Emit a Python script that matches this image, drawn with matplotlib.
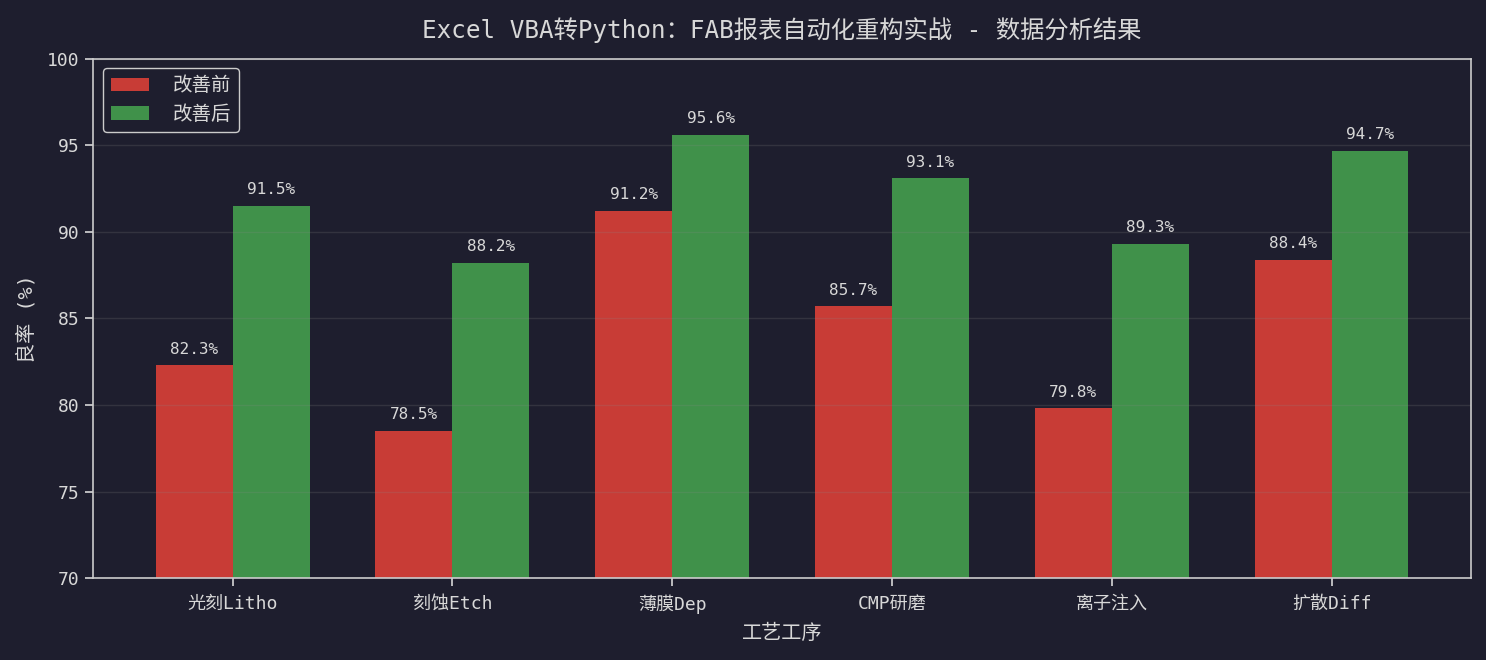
import matplotlib
matplotlib.use('Agg')
import matplotlib.pyplot as plt
import numpy as np

plt.rcParams['font.family'] = ['DejaVu Sans Mono', 'Noto Sans CJK SC']
plt.rcParams['axes.unicode_minus'] = False

# 数据
processes = ['光刻Litho', '刻蚀Etch', '薄膜Dep', 'CMP研磨', '离子注入', '扩散Diff']
before = [82.3, 78.5, 91.2, 85.7, 79.8, 88.4]
after = [91.5, 88.2, 95.6, 93.1, 89.3, 94.7]

bg = '#1e1e2e'
fg = '#d8d8d8'

fig, ax = plt.subplots(figsize=(14.86, 6.6), dpi=100)
fig.patch.set_facecolor(bg)
ax.set_facecolor(bg)

x = np.arange(len(processes))
w = 0.35
b1 = ax.bar(x - w / 2, before, w, color='#c83c36', label='改善前')
b2 = ax.bar(x + w / 2, after, w, color='#40914a', label='改善后')

for bars in (b1, b2):
    for r in bars:
        h = r.get_height()
        ax.text(r.get_x() + r.get_width() / 2, h + 0.5, f'{h:.1f}%',
                ha='center', va='bottom', color=fg, fontsize=11.5)

ax.set_ylim(70, 100)
ax.set_xticks(x)
ax.set_xticklabels(processes)
ax.set_xlabel('工艺工序', color=fg, fontsize=14.5, labelpad=7)
ax.set_ylabel('良率 (%)', color=fg, fontsize=14.5, labelpad=8)
ax.set_title('Excel VBA转Python：FAB报表自动化重构实战 - 数据分析结果',
             color=fg, fontsize=17.5, pad=15)

ax.grid(axis='y', color='#888888', alpha=0.2, linewidth=1)
for s in ax.spines.values():
    s.set_color('#cccccc')
    s.set_linewidth(1.2)
ax.tick_params(colors=fg, labelsize=13, length=6, width=1.2)
ax.tick_params(axis='x', pad=6)

leg = ax.legend(loc='upper left', fontsize=14, facecolor=bg, edgecolor='#cccccc',
                labelcolor=fg, framealpha=1, handletextpad=1.2)

plt.subplots_adjust(left=0.0626, right=0.99, top=0.911, bottom=0.124)
plt.savefig('out.png', dpi=100, facecolor=bg)
